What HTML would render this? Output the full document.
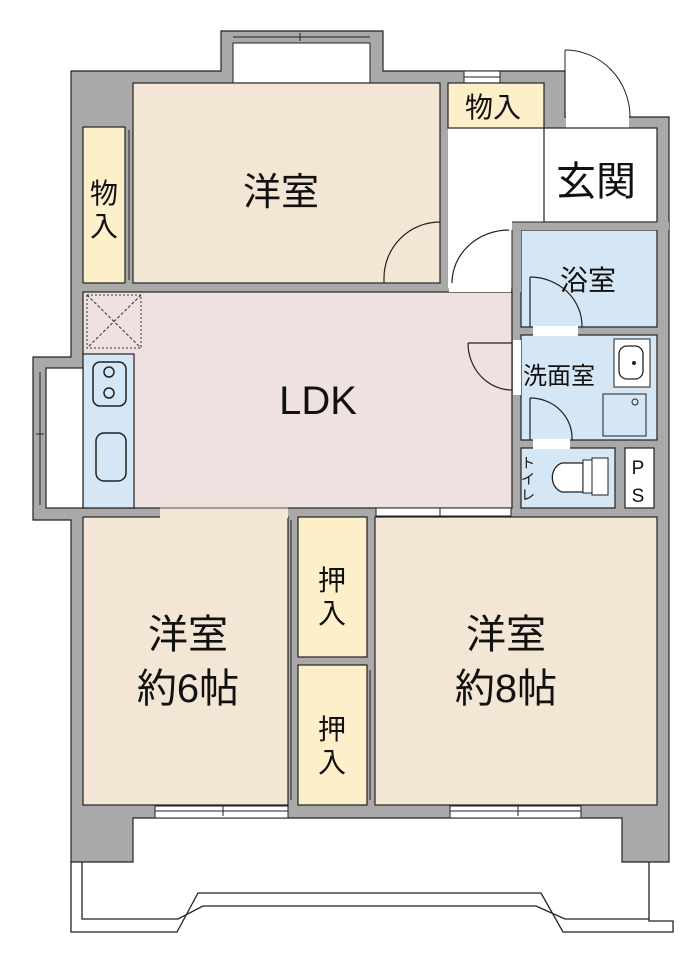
<!DOCTYPE html>
<html><head><meta charset="utf-8"><style>
html,body{margin:0;padding:0;background:#fff}
svg{display:block}
text{font-family:"Liberation Sans","Noto Sans CJK JP",sans-serif;fill:#111}
</style></head><body>
<svg width="700" height="964" viewBox="0 0 700 964" xmlns="http://www.w3.org/2000/svg">
<g stroke="#222" stroke-width="1.2">
<path d="M71,71 H221 V31 H383 V71 H565 V117 H669 V862 H622 V818 H133 V862 H71 V520 H33 V357 H71 Z" fill="#a9a9aa"/>
</g>
<!-- door opening at entrance -->
<rect x="566" y="116" width="63" height="13" fill="#fff"/>
<line x1="565" y1="50" x2="565" y2="117" stroke="#222"/>
<path d="M565,50 A65,67 0 0 1 630,117" fill="none" stroke="#222"/>
<!-- bay interior -->
<rect x="233" y="43" width="137" height="41" fill="#fff" stroke="#222"/>
<line x1="233" y1="37" x2="370" y2="37" stroke="#222"/>
<line x1="300" y1="33" x2="300" y2="41" stroke="#222"/>
<rect x="464" y="71" width="36" height="12" fill="#fff" stroke="#222"/>
<line x1="464" y1="77" x2="500" y2="77" stroke="#222"/>
<!-- rooms -->
<g stroke="#222" stroke-width="1.2">
<rect x="448" y="128" width="97" height="160" fill="#fff" stroke="none"/>
<rect x="133" y="83" width="307" height="200" fill="#f3e6d5"/>
<rect x="448" y="83" width="96" height="45" fill="#fcefc9"/>
<rect x="544" y="128" width="113" height="94" fill="#fff"/>
<rect x="83" y="127" width="42" height="156" fill="#fcefc9"/>
<rect x="83" y="292" width="429" height="216" fill="#f0e1e1"/>
<rect x="521" y="230" width="136" height="97" fill="#d5e6f4"/>
<rect x="521" y="335" width="136" height="105" fill="#d5e6f4"/>
<rect x="521" y="448" width="94" height="60" fill="#d5e6f4"/>
<rect x="625" y="448" width="29" height="60" fill="#fff"/>
<rect x="83" y="354" width="51" height="154" fill="#d5e6f4"/>
<rect x="46" y="368" width="37" height="140" fill="#fff"/>
<rect x="83" y="517" width="205" height="288" fill="#f3e6d5"/>
<rect x="298" y="517" width="69" height="140" fill="#fcefc9"/>
<rect x="298" y="665" width="69" height="140" fill="#fcefc9"/>
<rect x="375" y="517" width="282" height="288" fill="#f3e6d5"/>
</g>
<!-- wall patches -->
<rect x="512" y="222" width="157" height="8" fill="#a9a9aa"/>
<rect x="512" y="222" width="9" height="70" fill="#a9a9aa"/>
<line x1="512" y1="230" x2="512" y2="292" stroke="#222"/>
<line x1="512" y1="222" x2="657" y2="222" stroke="#222"/>
<!-- opening LDK to 洋室6 -->
<rect x="160" y="507" width="128" height="11" fill="#f3e6d5"/>
<rect x="160" y="507" width="128" height="2" fill="#f0e1e1"/>
<line x1="160" y1="508" x2="288" y2="508" stroke="#222" stroke-width="0.8"/>
<!-- passages -->
<rect x="449" y="284" width="62" height="8" fill="#fff"/>
<rect x="513" y="340" width="8" height="55" fill="#fff"/>
<rect x="533" y="326" width="45" height="10" fill="#fff"/>
<rect x="533" y="439" width="37" height="10" fill="#fff"/>
<!-- windows -->
<rect x="155" y="806" width="133" height="12" fill="#fff" stroke="#222"/>
<line x1="155" y1="811" x2="288" y2="811" stroke="#222"/><line x1="223" y1="806" x2="223" y2="816" stroke="#222"/>
<rect x="450" y="806" width="131" height="12" fill="#fff" stroke="#222"/>
<line x1="450" y1="811" x2="581" y2="811" stroke="#222"/><line x1="518" y1="806" x2="518" y2="816" stroke="#222"/>
<rect x="376" y="508" width="135" height="8" fill="#fff" stroke="#222"/>
<line x1="440" y1="508" x2="440" y2="516" stroke="#222"/>
<line x1="40" y1="372" x2="40" y2="505" stroke="#222"/>
<line x1="36" y1="434" x2="44" y2="434" stroke="#222"/>
<line x1="291" y1="520" x2="291" y2="800" stroke="#222"/>
<line x1="370" y1="670" x2="370" y2="800" stroke="#222"/>
<line x1="129" y1="130" x2="129" y2="280" stroke="#222"/>
<!-- ventilation -->
<rect x="87" y="295" width="54" height="53" fill="none" stroke="#333" stroke-dasharray="2,2"/>
<line x1="87" y1="295" x2="141" y2="348" stroke="#333" stroke-dasharray="3,2"/>
<line x1="141" y1="295" x2="87" y2="348" stroke="#333" stroke-dasharray="3,2"/>
<!-- kitchen -->
<rect x="93" y="362" width="33" height="44" rx="7" fill="none" stroke="#222" stroke-width="1.5"/>
<circle cx="109" cy="372" r="5" fill="none" stroke="#222" stroke-width="1.5"/>
<circle cx="109" cy="393" r="5" fill="none" stroke="#222" stroke-width="1.5"/>
<rect x="96" y="433" width="30" height="48" rx="8" fill="none" stroke="#222" stroke-width="1.5"/>
<!-- doors -->
<g fill="none" stroke="#222" stroke-width="1.2">
<path d="M384,278 A56,56 0 0 1 440,222"/>
<line x1="384" y1="278" x2="384" y2="283"/>
<path d="M452,283 A57,53 0 0 1 509,230"/>
<path d="M530,277 A52,49 0 0 1 582,327"/>
<line x1="530" y1="277" x2="530" y2="327"/>
<line x1="468" y1="343" x2="512" y2="343"/>
<path d="M468,343 A44,47 0 0 0 512,390"/>
<path d="M530,398 A42,40 0 0 1 572,440"/>
<line x1="530" y1="398" x2="530" y2="440"/>
</g>
<!-- sink / washer -->
<rect x="614" y="339" width="36" height="48" fill="#fff" stroke="#222"/>
<rect x="619" y="346" width="24" height="33" rx="8" fill="none" stroke="#222" stroke-width="1.3"/>
<circle cx="634" cy="363" r="2" fill="#222"/>
<rect x="603" y="394" width="43" height="42" fill="#d5e6f4" stroke="#222"/>
<circle cx="635" cy="402" r="3" fill="none" stroke="#222"/>
<!-- toilet -->
<rect x="592" y="458" width="16" height="37" fill="#fff" stroke="#222"/>
<path d="M583,463 H562 A13,15 0 0 0 562,492 H583 Z" fill="#fff" stroke="#222" stroke-width="1.3"/>
<rect x="583" y="460" width="9" height="33" fill="#fff" stroke="#222"/>
<!-- balcony -->
<g fill="none" stroke="#222" stroke-width="1.3">
<path d="M71,862 V932 H177 L198,893 H541 L563,932 H673 V921 H649 V862"/>
<path d="M82,862 V919 H178 L203,906 H536 L565,919 H649"/>
</g>
<!-- labels -->
<text x="281" y="205" font-size="38" text-anchor="middle">洋室</text>
<text x="104" y="203" font-size="28" text-anchor="middle">物</text>
<text x="104" y="236" font-size="28" text-anchor="middle">入</text>
<text x="493" y="117" font-size="28" text-anchor="middle">物入</text>
<text x="596" y="195" font-size="40" text-anchor="middle">玄関</text>
<text x="588" y="290" font-size="28" text-anchor="middle">浴室</text>
<text x="559" y="384" font-size="24" text-anchor="middle">洗面室</text>
<text x="528" y="468" font-size="14" text-anchor="middle">ト</text>
<text x="528" y="484" font-size="14" text-anchor="middle">イ</text>
<text x="528" y="500" font-size="14" text-anchor="middle">レ</text>
<text x="638" y="474" font-size="19" text-anchor="middle">P</text>
<text x="638" y="502" font-size="19" text-anchor="middle">S</text>
<text x="318" y="414" font-size="40" text-anchor="middle">LDK</text>
<text x="188" y="648" font-size="40" text-anchor="middle">洋室</text>
<text x="188" y="702" font-size="40" text-anchor="middle">約6帖</text>
<text x="506" y="648" font-size="40" text-anchor="middle">洋室</text>
<text x="506" y="702" font-size="40" text-anchor="middle">約8帖</text>
<text x="332" y="590" font-size="28" text-anchor="middle">押</text>
<text x="332" y="623" font-size="28" text-anchor="middle">入</text>
<text x="332" y="739" font-size="28" text-anchor="middle">押</text>
<text x="332" y="772" font-size="28" text-anchor="middle">入</text>
</svg>
</body></html>
